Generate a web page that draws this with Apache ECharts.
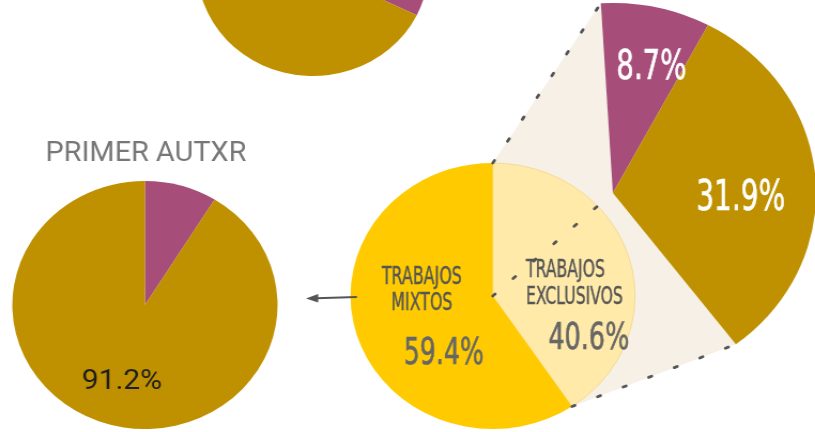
<!DOCTYPE html>
<html>
<head>
<meta charset="utf-8">
<script src="https://cdn.jsdelivr.net/npm/echarts@6/dist/echarts.min.js"></script>
<style>
  html, body { margin: 0; padding: 0; background: #fff; overflow: hidden; width: 815px; height: 432px; }
  /* the drawing is laid out on a 762px canvas and widened to fill the page */
  #chart { width: 762px; height: 432px; transform: scaleX(1.0696); transform-origin: 0 0; }
</style>
</head>
<body>
<div id="chart"></div>
<script>
// ---- data ----
const splitNames = ['TRABAJOS EXCLUSIVOS', 'TRABAJOS MIXTOS'];
const splitValues = [40.6, 59.4];            // all works: exclusive vs mixed
const exclusiveValues = [8.7, 31.9];         // breakdown of the exclusive works
const firstAuthorValues = [8.8, 91.2];       // first author
const upperValues = [32.2, 67.8];
const firstAuthorTitle = 'PRIMER AUTXR';

// ---- style ----
const GOLD = '#bf9000', PURPLE = '#a64d79', YELLOW = '#ffcb00', LIGHT = '#ffeaa9';
const BEIGE = '#f6f0e6', INK = '#555555';
const NARROW = '"Liberation Sans Narrow", "DejaVu Sans Condensed", "Arial Narrow", sans-serif';

// pie layout (canvas px)
const LEFT  = { c: [135.5, 305], r: 124, start: 90 };
const MID   = { c: [460.7, 296], r: 133, start: 90 };
const RIGHT = { c: [573, 193],   r: 190, start: 93.4 };
const UPPER = { c: [292.5, -32], r: 108, start: 90 };

const pct = v => v.toFixed(1) + '%';

// point on a pie's rim after a given fraction of the turn (clockwise)
function rim(pie, frac, rr) {
  const a = (pie.start - 360 * frac) * Math.PI / 180;
  const r = rr === undefined ? pie.r : rr;
  return [pie.c[0] + r * Math.cos(a), pie.c[1] - r * Math.sin(a)];
}
const sum = arr => arr.reduce((a, b) => a + b, 0);

// condensed label: scaled horizontally to a given width, slightly emboldened
const measureCtx = document.createElement('canvas').getContext('2d');
function narrowText(text, size, width, x, y, fill, align, lineHeight, weight) {
  const font = size + 'px ' + NARROW;
  measureCtx.font = font;
  const w = Math.max.apply(null, text.split('\n').map(t => measureCtx.measureText(t).width));
  return {
    type: 'text', x: x, y: y, scaleX: width / w, z: 120, silent: true,
    style: {
      text: text, font: font, fill: fill, stroke: fill, lineWidth: weight || 0.4,
      align: align || 'center', verticalAlign: 'middle', lineHeight: lineHeight || size
    }
  };
}
function plainText(text, size, x, y, fill) {
  return {
    type: 'text', x: x, y: y, z: 120, silent: true,
    style: { text: text, font: size + 'px Roboto, sans-serif', fill: fill, align: 'center', verticalAlign: 'middle' }
  };
}
function dotted(p, q) {
  return {
    type: 'line', z: 110, silent: true,
    shape: { x1: p[0], y1: p[1], x2: q[0], y2: q[1] },
    style: { stroke: INK, lineWidth: 2.8, lineDash: [3, 22.8], lineCap: 'round' }
  };
}

function pieSeries(pie, values, colors) {
  return {
    type: 'pie', silent: true, animation: false,
    center: pie.c, radius: pie.r, startAngle: pie.start, clockwise: true,
    label: { show: false }, labelLine: { show: false },
    itemStyle: { borderWidth: 0 },
    data: values.map((v, i) => ({ value: v, itemStyle: { color: colors[i] } }))
  };
}

// geometry linking the middle pie to its exploded exclusive part
const midTop = rim(MID, 0);
const midSplit = rim(MID, splitValues[0] / 100);
const rightStart = rim(RIGHT, 0);
const rightEnd = rim(RIGHT, sum(exclusiveValues) / 100);

const chart = echarts.init(document.getElementById('chart'), null, { renderer: 'canvas' });
chart.setOption({
  animation: false,
  backgroundColor: '#ffffff',
  series: [
    pieSeries(UPPER, upperValues, [PURPLE, GOLD]),
    pieSeries(LEFT, firstAuthorValues, [PURPLE, GOLD]),
    pieSeries(RIGHT, exclusiveValues.concat([splitValues[1]]), [PURPLE, GOLD, 'rgba(0,0,0,0)']),
    Object.assign(pieSeries(MID, splitValues, [LIGHT, YELLOW]), {
      data: [
        { value: splitValues[0], itemStyle: { color: LIGHT, borderColor: 'rgba(235,200,90,0.45)', borderWidth: 1 } },
        { value: splitValues[1], itemStyle: { color: YELLOW } }
      ]
    })
  ],
  graphic: [
    { type: 'polygon', z: 0, silent: true,
      shape: { points: [midTop, rightStart, RIGHT.c, rightEnd, midSplit] },
      style: { fill: BEIGE } },
    dotted(midTop, rightStart),
    dotted(midSplit, rightEnd),
    dotted(MID.c, RIGHT.c),
    // arrow from the mixed works towards the first-author pie
    { type: 'line', z: 110, silent: true,
      shape: { x1: MID.c[0] - MID.r + 6, y1: MID.c[1] + 1, x2: LEFT.c[0] + LEFT.r + 36, y2: MID.c[1] + 2.2 },
      style: { stroke: INK, lineWidth: 2 } },
    { type: 'polygon', z: 110, silent: true,
      shape: { points: [
        [LEFT.c[0] + LEFT.r + 26.5, MID.c[1] + 2.5],
        [LEFT.c[0] + LEFT.r + 38, MID.c[1] - 2],
        [LEFT.c[0] + LEFT.r + 38, MID.c[1] + 6.5]
      ] },
      style: { fill: INK } },

    // middle pie labels
    narrowText(splitNames[1].replace(' ', '\n'), 25, 74.8, MID.c[0] - 66.3, MID.c[1] - 5.5, INK, 'center', 26),
    narrowText(pct(splitValues[1]), 37, 74.8, MID.c[0] - 45.7, MID.c[1] + 58, '#666666', 'center', 37, 0.6),
    narrowText(splitNames[0].replace(' ', '\n'), 25, 90.7, MID.c[0] + 31, MID.c[1] - 12.5, INK, 'left', 27),
    narrowText(pct(splitValues[0]), 37, 75.7, MID.c[0] + 89.8, MID.c[1] + 43, '#666666', 'center', 37, 0.6),

    // exploded part labels
    narrowText(pct(exclusiveValues[0]), 40, 65.4, RIGHT.c[0] + 36, RIGHT.c[1] - 124, '#ffffff', 'center', 40, 0.6),
    narrowText(pct(exclusiveValues[1]), 42, 83.2, RIGHT.c[0] + 119.5, RIGHT.c[1] + 6, '#ffffff', 'center', 42, 0.6),

    // first author pie
    plainText(firstAuthorTitle, 27, LEFT.c[0] + 1, LEFT.c[1] - 151, '#777777'),
    plainText(pct(firstAuthorValues[1]), 28, LEFT.c[0] - 21.5, LEFT.c[1] + 77, '#1f1f1f'),

    // upper pie label
    plainText(pct(upperValues[1]), 28, UPPER.c[0] - 51.5, UPPER.c[1] + 25, '#1f1f1f')
  ]
});
</script>
</body>
</html>
